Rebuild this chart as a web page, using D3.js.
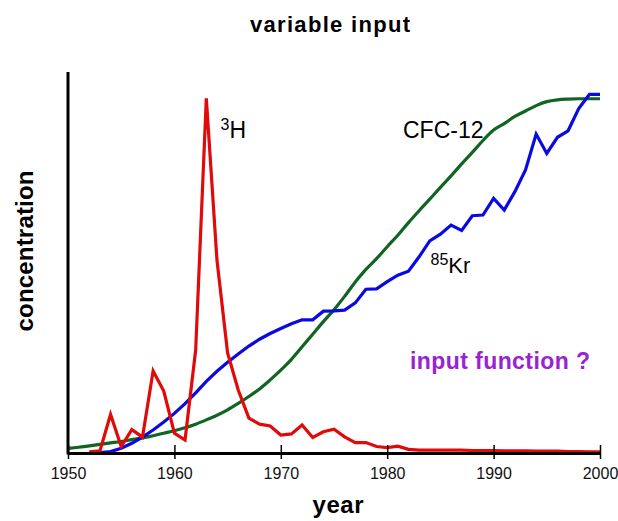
<!DOCTYPE html>
<html>
<head>
<meta charset="utf-8">
<script src="https://cdn.jsdelivr.net/npm/d3@7"></script>
<style>
	body { margin: 0; background: #fff; }
	svg { font-family: "Liberation Sans", Arial, Helvetica, sans-serif; }
</style>
</head>
<body>
<svg id="chart"></svg>
<script>
// years and readings (arbitrary concentration units, 0..100)
var xTicks = [1950, 1960, 1970, 1980, 1990, 2000];

var tritiumYears = d3.range(1952, 2001);
var tritium = [0.3, 0.6, 10.7, 1.8, 6.5, 4.4, 22.8, 17.2, 5.5, 3.6,
	28.6, 98.5, 53.6, 27.8, 17.5, 9.7, 8.0, 7.5, 5.0, 5.3,
	7.8, 4.3, 5.9, 6.6, 4.5, 2.9, 2.9, 1.8, 1.5, 1.9,
	1.0, 0.8, 0.8, 0.8, 0.8, 0.8, 0.7, 0.7, 0.7, 0.6,
	0.6, 0.6, 0.5, 0.5, 0.5, 0.4, 0.4, 0.3, 0.3];

var kryptonYears = d3.range(1952, 2001);
var krypton = [0, 0.1, 0.4, 1.3, 2.7, 4.4, 6.4, 8.6, 11.0, 13.7,
	16.7, 19.9, 22.7, 25.2, 27.5, 29.7, 31.6, 33.2, 34.6, 35.9,
	37.0, 37.0, 39.4, 39.5, 39.7, 41.7, 45.5, 45.6, 47.6, 49.4,
	50.5, 54.5, 58.9, 60.8, 63.3, 61.8, 65.9, 66.1, 70.7, 67.5,
	72.6, 78.6, 88.6, 83.2, 87.7, 89.5, 95.7, 99.6, 99.6];

var cfcYears = d3.range(1950, 2001);
var cfc = [1.3, 1.6, 2.0, 2.4, 2.8, 3.2, 3.7, 4.2, 4.8, 5.5,
	6.2, 7.0, 8.0, 9.2, 10.5, 12.0, 13.8, 15.7, 17.8, 20.3,
	23.0, 26.0, 29.5, 33.0, 36.5, 39.8, 43.5, 47.5, 51.0, 54.0,
	57.3, 60.5, 64.0, 67.3, 70.5, 73.8, 77.0, 80.3, 83.5, 86.8,
	89.7, 91.5, 93.5, 95.0, 96.5, 97.6, 98.1, 98.3, 98.4, 98.4,
	98.4];

(function () {
	'use strict';

	var w = 618,
		h = 521,
		x, y, svg, line, series, xAxis;

	svg = d3.select('#chart')
		.attr('width', w)
		.attr('height', h);

	x = d3.scaleLinear().domain([1950, 2000]).range([68, 600]);
	y = d3.scaleLinear().domain([0, 100]).range([453, 93]);

	function zip(years, vals) {
		return years.map(function (yr, i) { return { year: yr, v: vals[i] }; });
	}

	series = [
		{ data: zip(cfcYears, cfc), color: '#116522', curve: d3.curveMonotoneX },
		{ data: zip(kryptonYears, krypton), color: '#0a0ae0', curve: d3.curveLinear },
		{ data: zip(tritiumYears, tritium), color: '#e00a0a', curve: d3.curveLinear }
	];

	series.forEach(function (s) {
		line = d3.line()
			.x(function (d) { return x(d.year); })
			.y(function (d) { return y(d.v); })
			.curve(s.curve);

		svg.append('path')
			.datum(s.data)
			.attr('d', line)
			.attr('fill', 'none')
			.attr('stroke', s.color)
			.attr('stroke-width', 3.2)
			.attr('stroke-linejoin', 'miter');
	});

	// y axis: plain line, no ticks
	svg.append('line')
		.attr('x1', x(1950)).attr('x2', x(1950))
		.attr('y1', 72).attr('y2', y(0) + 1.5)
		.attr('stroke', '#000')
		.attr('stroke-width', 3);

	xAxis = svg.append('g')
		.attr('transform', 'translate(0,' + y(0) + ')')
		.call(d3.axisBottom(x)
			.tickValues(xTicks)
			.tickFormat(d3.format('d'))
			.tickSize(6)
			.tickSizeOuter(0)
			.tickPadding(9));

	xAxis.select('.domain')
		.attr('stroke-width', 3);
	xAxis.selectAll('.tick line')
		.attr('y1', -8)
		.attr('stroke-width', 1.5);
	xAxis.selectAll('.tick text')
		.attr('font-family', '"Liberation Sans", Arial, sans-serif')
		.attr('font-size', 16)
		.attr('fill', '#111');

	// titles
	svg.append('text')
		.attr('x', 330).attr('y', 31.5)
		.attr('text-anchor', 'middle')
		.attr('font-weight', 'bold')
		.attr('font-size', 22)
		.attr('textLength', 160)
		.text('variable  input');

	svg.append('text')
		.attr('x', 338).attr('y', 513)
		.attr('text-anchor', 'middle')
		.attr('font-weight', 'bold')
		.attr('font-size', 24)
		.attr('textLength', 51)
		.text('year');

	svg.append('text')
		.attr('transform', 'translate(33,251) rotate(-90)')
		.attr('text-anchor', 'middle')
		.attr('font-weight', 'bold')
		.attr('font-size', 24)
		.attr('textLength', 161)
		.text('concentration');

	svg.append('text')
		.attr('x', 500).attr('y', 369)
		.attr('text-anchor', 'middle')
		.attr('font-weight', 'bold')
		.attr('font-size', 23)
		.attr('textLength', 180)
		.attr('fill', '#9a22d2')
		.text('input function ?');

	// curve labels
	svg.append('text')
		.attr('x', 403).attr('y', 137.5)
		.attr('font-size', 23)
		.text('CFC-12');

	var kr = svg.append('text')
		.attr('x', 430.5).attr('y', 272.5)
		.attr('font-size', 22);
	kr.append('tspan').attr('font-size', 16).attr('dy', -8).text('85');
	kr.append('tspan').attr('dy', 8).text('Kr');

	var th = svg.append('text')
		.attr('x', 220.5).attr('y', 138.3)
		.attr('font-size', 23);
	th.append('tspan').attr('font-size', 16).attr('dy', -8).text('3');
	th.append('tspan').attr('dy', 8).text('H');
})();
</script>
</body>
</html>
